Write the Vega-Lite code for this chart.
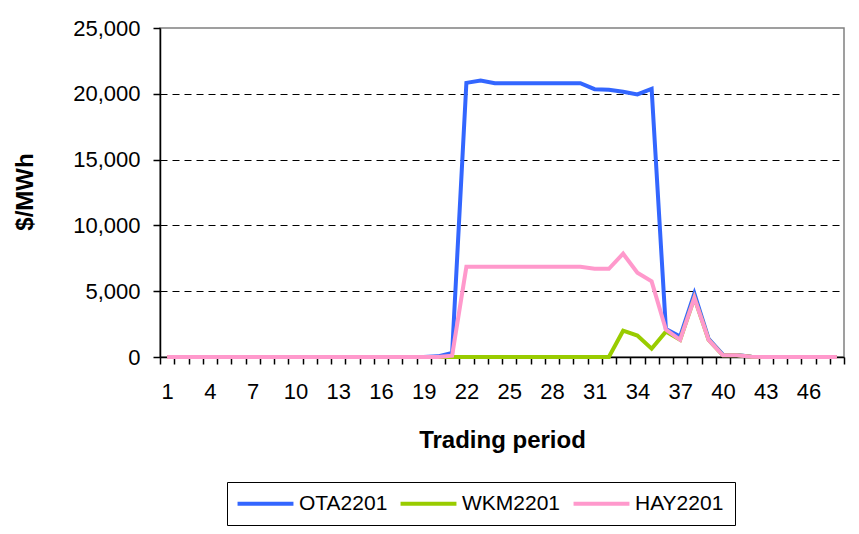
{
  "$schema": "https://vega.github.io/schema/vega-lite/v6.json",
  "width": 684,
  "height": 329,
  "autosize": {"type": "none"},
  "padding": {"left": 160, "top": 28, "right": 15, "bottom": 177},
  "background": "white",
  "config": {
    "font": "Liberation Sans",
    "view": {"stroke": "#808080", "strokeWidth": 1.5}
  },
  "data": {
    "values": [
      {"p": 1, "OTA2201": 0, "WKM2201": 0, "HAY2201": 0},
      {"p": 2, "OTA2201": 0, "WKM2201": 0, "HAY2201": 0},
      {"p": 3, "OTA2201": 0, "WKM2201": 0, "HAY2201": 0},
      {"p": 4, "OTA2201": 0, "WKM2201": 0, "HAY2201": 0},
      {"p": 5, "OTA2201": 0, "WKM2201": 0, "HAY2201": 0},
      {"p": 6, "OTA2201": 0, "WKM2201": 0, "HAY2201": 0},
      {"p": 7, "OTA2201": 0, "WKM2201": 0, "HAY2201": 0},
      {"p": 8, "OTA2201": 0, "WKM2201": 0, "HAY2201": 0},
      {"p": 9, "OTA2201": 0, "WKM2201": 0, "HAY2201": 0},
      {"p": 10, "OTA2201": 0, "WKM2201": 0, "HAY2201": 0},
      {"p": 11, "OTA2201": 0, "WKM2201": 0, "HAY2201": 0},
      {"p": 12, "OTA2201": 0, "WKM2201": 0, "HAY2201": 0},
      {"p": 13, "OTA2201": 0, "WKM2201": 0, "HAY2201": 0},
      {"p": 14, "OTA2201": 0, "WKM2201": 0, "HAY2201": 0},
      {"p": 15, "OTA2201": 0, "WKM2201": 0, "HAY2201": 0},
      {"p": 16, "OTA2201": 0, "WKM2201": 0, "HAY2201": 0},
      {"p": 17, "OTA2201": 0, "WKM2201": 0, "HAY2201": 0},
      {"p": 18, "OTA2201": 0, "WKM2201": 0, "HAY2201": 0},
      {"p": 19, "OTA2201": 0, "WKM2201": 0, "HAY2201": 0},
      {"p": 20, "OTA2201": 50, "WKM2201": 0, "HAY2201": 0},
      {"p": 21, "OTA2201": 300, "WKM2201": 0, "HAY2201": 100},
      {"p": 22, "OTA2201": 20830, "WKM2201": 0, "HAY2201": 6850},
      {"p": 23, "OTA2201": 21000, "WKM2201": 0, "HAY2201": 6850},
      {"p": 24, "OTA2201": 20800, "WKM2201": 0, "HAY2201": 6850},
      {"p": 25, "OTA2201": 20800, "WKM2201": 0, "HAY2201": 6850},
      {"p": 26, "OTA2201": 20800, "WKM2201": 0, "HAY2201": 6850},
      {"p": 27, "OTA2201": 20800, "WKM2201": 0, "HAY2201": 6850},
      {"p": 28, "OTA2201": 20800, "WKM2201": 0, "HAY2201": 6850},
      {"p": 29, "OTA2201": 20800, "WKM2201": 0, "HAY2201": 6850},
      {"p": 30, "OTA2201": 20800, "WKM2201": 0, "HAY2201": 6850},
      {"p": 31, "OTA2201": 20350, "WKM2201": 0, "HAY2201": 6700},
      {"p": 32, "OTA2201": 20300, "WKM2201": 0, "HAY2201": 6700},
      {"p": 33, "OTA2201": 20150, "WKM2201": 2000, "HAY2201": 7850},
      {"p": 34, "OTA2201": 19950, "WKM2201": 1630, "HAY2201": 6400},
      {"p": 35, "OTA2201": 20370, "WKM2201": 630, "HAY2201": 5750},
      {"p": 36, "OTA2201": 2130, "WKM2201": 1930, "HAY2201": 2080},
      {"p": 37, "OTA2201": 1550, "WKM2201": 1300, "HAY2201": 1300},
      {"p": 38, "OTA2201": 4830, "WKM2201": 4500, "HAY2201": 4500},
      {"p": 39, "OTA2201": 1380, "WKM2201": 1300, "HAY2201": 1300},
      {"p": 40, "OTA2201": 180, "WKM2201": 130, "HAY2201": 130},
      {"p": 41, "OTA2201": 150, "WKM2201": 130, "HAY2201": 130},
      {"p": 42, "OTA2201": 20, "WKM2201": 20, "HAY2201": 20},
      {"p": 43, "OTA2201": 0, "WKM2201": 0, "HAY2201": 0},
      {"p": 44, "OTA2201": 0, "WKM2201": 0, "HAY2201": 0},
      {"p": 45, "OTA2201": 0, "WKM2201": 0, "HAY2201": 0},
      {"p": 46, "OTA2201": 0, "WKM2201": 0, "HAY2201": 0},
      {"p": 47, "OTA2201": 0, "WKM2201": 0, "HAY2201": 0},
      {"p": 48, "OTA2201": 0, "WKM2201": 0, "HAY2201": 0}
    ]
  },
  "transform": [
    {"fold": ["OTA2201", "WKM2201", "HAY2201"], "as": ["node", "price"]}
  ],
  "encoding": {
    "x": {
      "field": "p",
      "type": "ordinal",
      "bandPosition": 0.5,
      "scale": {"type": "band", "paddingInner": 0, "paddingOuter": 0},
      "axis": {
        "title": "Trading period",
        "titleFontSize": 24,
        "titleFontWeight": "bold",
        "titleColor": "black",
        "titleBaseline": "alphabetic",
        "titleY": 90,
        "labelFontSize": 22,
        "labelColor": "black",
        "labelAngle": 0,
        "labelOverlap": false,
        "labelExpr": "(datum.value - 1) % 3 === 0 ? datum.label : ''",
        "labelPadding": 17,
        "tickBand": "extent",
        "tickSize": 7,
        "tickColor": "black",
        "tickWidth": 1.5,
        "domainColor": "black",
        "domainWidth": 1.5,
        "grid": false
      }
    },
    "y": {
      "field": "price",
      "type": "quantitative",
      "scale": {"domain": [0, 25000], "nice": false},
      "axis": {
        "title": "$/MWh",
        "titleFontSize": 24,
        "titleFontWeight": "bold",
        "titleColor": "black",
        "titleBaseline": "alphabetic",
        "titleX": -128,
        "titleY": 163.5,
        "titleAngle": -90,
        "values": [0, 5000, 10000, 15000, 20000, 25000],
        "format": ",.0f",
        "labelFontSize": 22,
        "labelColor": "black",
        "labelPadding": 13,
        "tickSize": 7,
        "tickColor": "black",
        "tickWidth": 1.5,
        "domainColor": "black",
        "domainWidth": 1.5,
        "grid": true,
        "gridColor": "black",
        "gridDash": [7, 5],
        "gridWidth": 1,
        "gridOpacity": {"condition": {"test": "datum.value === 0 || datum.value === 25000", "value": 0}, "value": 1}
      }
    },
    "color": {
      "field": "node",
      "type": "nominal",
      "scale": {
        "domain": ["OTA2201", "WKM2201", "HAY2201"],
        "range": ["#3366FF", "#99CC00", "#FF99CC"]
      },
      "legend": {
        "title": null,
        "orient": "none",
        "direction": "horizontal",
        "legendX": 67,
        "legendY": 454,
        "strokeColor": "black",
        "padding": 11,
        "symbolType": "M-5,0H5",
        "symbolSize": 125,
        "symbolOffset": 17,
        "symbolStrokeWidth": 4,
        "labelFontSize": 21,
        "labelColor": "black",
        "labelOffset": 23,
        "columnPadding": 4
      }
    }
  },
  "layer": [
    {"transform": [{"filter": "datum.node === 'OTA2201'"}], "mark": {"type": "line", "strokeWidth": 4}},
    {"transform": [{"filter": "datum.node === 'WKM2201'"}], "mark": {"type": "line", "strokeWidth": 4}},
    {"transform": [{"filter": "datum.node === 'HAY2201'"}], "mark": {"type": "line", "strokeWidth": 4}}
  ]
}
